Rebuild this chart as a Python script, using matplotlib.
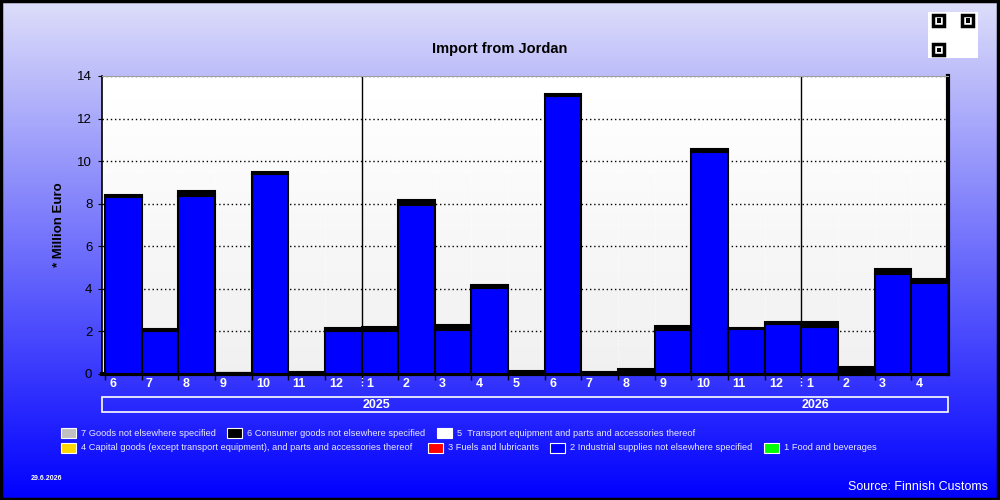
import matplotlib.pyplot as plt
from matplotlib.patches import Rectangle
from matplotlib.transforms import blended_transform_factory
import numpy as np

plt.rcParams['font.family'] = ['Liberation Sans', 'DejaVu Sans']

months = ["6", "7", "8", "9", "10", "11", "12",
          "1", "2", "3", "4", "5", "6", "7", "8", "9", "10", "11", "12",
          "1", "2", "3", "4"]
years = ["2025", "2026"]
year_start = [7, 19]  # index of first month of each year

# 2 Industrial supplies not elsewhere specified
industrial = [8.3, 2.0, 8.35, 0.0, 9.4, 0.0, 2.03,
              2.0, 7.93, 2.07, 4.02, 0.0, 13.05, 0.0, 0.0, 2.07, 10.42, 2.1, 2.35,
              2.22, 0.05, 4.72, 4.26]
# 6 Consumer goods not elsewhere specified
consumer = [0.1, 0.1, 0.25, 0.03, 0.07, 0.08, 0.13,
            0.2, 0.24, 0.23, 0.16, 0.14, 0.1, 0.08, 0.23, 0.18, 0.13, 0.07, 0.08,
            0.2, 0.27, 0.19, 0.2]

legend_rows = [
    [("7 Goods not elsewhere specified", "#c0c0c0"),
     ("6 Consumer goods not elsewhere specified", "#000000"),
     ("5  Transport equipment and parts and accessories thereof", "#ffffff")],
    [("4 Capital goods (except transport equipment), and parts and accessories thereof", "#ffd700"),
     ("3 Fuels and lubricants", "#ff0000"),
     ("2 Industrial supplies not elsewhere specified", "#0000ff"),
     ("1 Food and beverages", "#00ff00")],
]
legend_x = [[61, 227, 437], [61, 428, 550, 764]]

W, H = 1000, 500
fig = plt.figure(figsize=(10, 5), dpi=100)

# gradient background
bg = fig.add_axes([0, 0, 1, 1])
t = np.linspace(0, 1, 256)[:, None]
top = np.array([222, 222, 250]) / 255
bot = np.array([0, 0, 255]) / 255
grad = top * (1 - t[..., None]) + bot * t[..., None]
grad = np.repeat(grad, 2, axis=1)
bg.imshow(grad, aspect="auto", extent=[0, 1, 0, 1])
bg.set_xlim(0, 1)
bg.set_ylim(0, 1)
bg.axis("off")
fig.patches.append(Rectangle((0.001, 0.002), 0.997, 0.996, transform=fig.transFigure,
                             fill=False, edgecolor="black", linewidth=2.5))

def fx(px):
    return px / W

def fy(py):
    return 1 - py / H

ax = fig.add_axes([fx(102), fy(374), fx(948) - fx(102), fy(76) - fy(374)])
pg = np.linspace(1, 0.94, 64)[:, None]
ax.imshow(np.repeat(pg, 2, axis=1), cmap="gray", vmin=0, vmax=1, aspect="auto",
          extent=[-0.58, 22.5, 0, 14], zorder=0)

x = np.arange(len(months))
ax.bar(x, industrial, width=1.0, color="#0000ff", edgecolor="black", linewidth=1.5, zorder=3)
ax.bar(x, consumer, width=1.0, bottom=industrial, color="#000000", edgecolor="black",
       linewidth=1.5, zorder=3)

ax.set_xlim(-0.58, 22.5)
ax.set_ylim(0, 14)
ax.set_yticks(range(0, 15, 2))
ax.tick_params(axis="y", labelsize=9.5, length=3, pad=4)
ax.yaxis.grid(True, color="black", linestyle=(0, (1, 2)), linewidth=1, zorder=1)
for b in np.arange(-0.5, 22.5, 1):
    ax.axvline(b, color="white", linestyle=(0, (1, 2)), linewidth=0.8, zorder=1)
for ys in year_start:
    ax.axvline(ys - 0.5, color="black", linewidth=1, zorder=2)

ax.set_xticks(np.arange(-0.5, 22.5, 1))
ax.set_xticklabels([])
ax.tick_params(axis="x", length=4, width=1, color="black")
trans = blended_transform_factory(ax.transData, fig.transFigure)
for i, m in enumerate(months):
    fig.text(i - 0.5 + 0.12, fy(384), m, transform=trans, ha="left", va="center",
             color="white", fontsize=9, fontweight="bold")
for ys in year_start:
    ax.plot([ys - 0.5, ys - 0.5], [fy(374), fy(386)], transform=trans, color="white",
            linestyle=(0, (1, 1.5)), linewidth=1, clip_on=False)

ax.spines["left"].set_linewidth(1.2)
ax.spines["top"].set_color("#a0a0a0")
ax.spines["right"].set_linewidth(3)
ax.spines["bottom"].set_linewidth(3)

ax.set_ylabel("* Million Euro", fontsize=9.5, fontweight="bold", labelpad=9)

# year box
fig.patches.append(Rectangle((fx(102), fy(412)), fx(948) - fx(102), fy(397) - fy(412),
                             transform=fig.transFigure, fill=False, edgecolor="white",
                             linewidth=1.2))
for ys, yr in zip(year_start, years):
    fig.text(ys - 0.5 + 0.02, fy(404.5), yr, transform=trans, ha="left", va="center",
             color="white", fontsize=9, fontweight="bold")

fig.text(0.5, fy(49), "Import from Jordan", ha="center", va="center",
         fontsize=10.5, fontweight="bold")

# legend
for row, (items, xs) in enumerate(zip(legend_rows, legend_x)):
    yc = 433 + row * 15
    for (label, col), px in zip(items, xs):
        fig.patches.append(Rectangle((fx(px), fy(yc + 5)), fx(15), 10 / H,
                                     transform=fig.transFigure, facecolor=col,
                                     edgecolor="white", linewidth=0.8))
        fig.text(fx(px + 20), fy(yc), label, ha="left", va="center",
                 color="#e8e8ff", fontsize=6.7)

fig.text(fx(31), fy(478), "29.6.2026", ha="left", va="center", color="white",
         fontsize=5, fontweight="bold")
fig.text(fx(988), fy(487), "Source: Finnish Customs", ha="right", va="center",
         color="white", fontsize=9)

# QR-like badge
fig.patches.append(Rectangle((fx(928), fy(58)), fx(50), 46 / H, transform=fig.transFigure,
                             facecolor="white", edgecolor="none"))
for qx, qy in [(933, 15), (962, 15), (933, 44)]:
    fig.patches.append(Rectangle((fx(qx), fy(qy + 11)), fx(11), 11 / H,
                                 transform=fig.transFigure, facecolor="white",
                                 edgecolor="black", linewidth=2.5))
    fig.patches.append(Rectangle((fx(qx + 3.5), fy(qy + 7.5)), fx(4), 4 / H,
                                 transform=fig.transFigure, facecolor="black",
                                 edgecolor="none"))

fig.savefig("out.png", dpi=100)
